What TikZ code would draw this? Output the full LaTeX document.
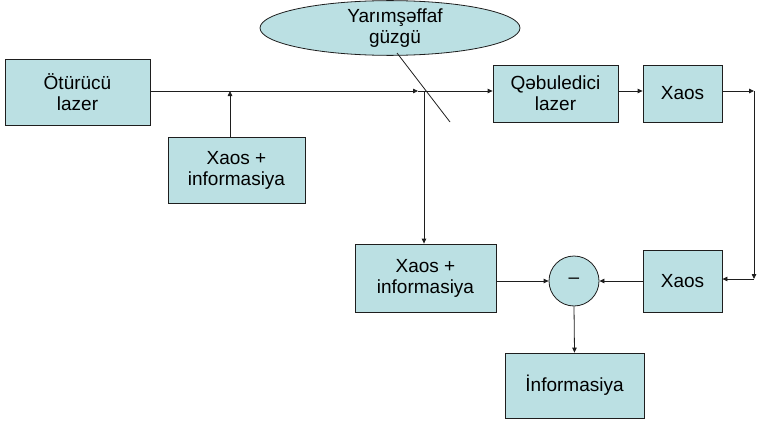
\documentclass[tikz,border=0pt]{standalone}
\usepackage{fontspec}
\setmainfont{Liberation Sans}
\usetikzlibrary{arrows.meta,shapes.geometric}
\definecolor{boxfill}{RGB}{187,224,227}
\definecolor{edge}{RGB}{30,30,30}
\begin{document}
\begin{tikzpicture}[x=1pt,y=-1pt,
  blk/.style={draw=edge,line width=0.8pt,fill=boxfill,rectangle,inner sep=0pt,
    align=center,font=\fontsize{19}{21}\selectfont},
  conn/.style={draw=edge,line width=0.8pt},
  arr/.style={conn,-{Triangle[length=5pt,width=4.5pt]}}]
\useasboundingbox (0,0) rectangle (757,420);
\node[blk,minimum width=145pt,minimum height=66pt] (tx) at (77.5,92) {Ötürücü\\lazer};
\node[blk,minimum width=137pt,minimum height=66pt] (xi1) at (236.5,170) {Xaos +\\informasiya};
\node[blk,ellipse,minimum width=260pt,minimum height=50pt] (mir) at (390,28) {\hspace*{10pt}Yarımşəffaf\\\hspace*{10pt}güzgü};
\node[blk,minimum width=125pt,minimum height=57pt] (rx) at (555.5,93.5) {Qəbuledici\\lazer};
\node[blk,minimum width=79pt,minimum height=57pt] (x1) at (682.5,93.5) {Xaos};
\node[blk,minimum width=79pt,minimum height=62pt] (x2) at (682.5,281) {Xaos};
\node[blk,minimum width=141pt,minimum height=68pt] (xi2) at (425.5,278) {Xaos +\\informasiya};
\node[blk,circle,minimum size=50pt] (sub) at (574,281) {--};
\node[blk,minimum width=139pt,minimum height=65pt] (inf) at (574.5,385.5) {İnformasiya};
\coordinate (j1) at (230,91);
\coordinate (sp) at (418,91);
\coordinate (dn) at (424,91);
\coordinate (m1) at (397,53);
\coordinate (m2) at (450,122);
\coordinate (c1) at (754,91);
\coordinate (c2) at (754,279);
% main beam
\draw[conn] (tx.east |- j1) -- (j1);
\draw[arr] (j1) -- (sp);
\draw[arr] (sp) -- (rx.west |- sp);
\draw[arr] (xi1.north -| j1) -- (j1);
% mirror
\draw[conn] (m1) -- (m2);
\draw[arr] (dn) -- (xi2.north -| dn);
% right loop
\draw[arr] (rx.east |- sp) -- (x1.west |- sp);
\draw[arr] (x1.east |- c1) -- (c1);
\draw[arr] (c1) -- (c2);
\draw[arr] (c2) -- (x2.east |- c2);
% subtraction
\draw[arr] (xi2.east |- sub.west) -- (sub.west);
\draw[arr] (x2.west |- sub.east) -- (sub.east);
\draw[arr] (sub.south) -- (inf.north);
\end{tikzpicture}
\end{document}
